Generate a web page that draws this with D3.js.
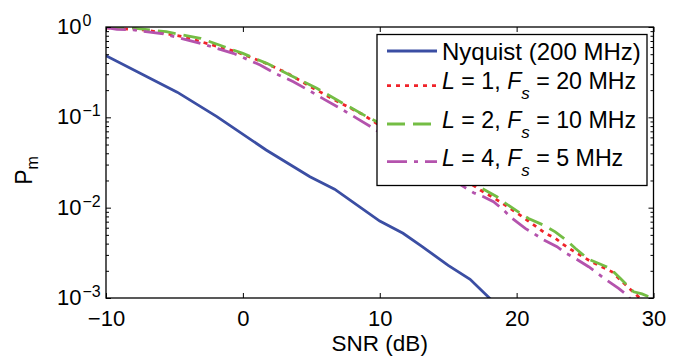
<!DOCTYPE html>
<html>
<head>
<meta charset="utf-8">
<script src="https://cdn.jsdelivr.net/npm/d3@7"></script>
<style>
  body { margin: 0; background: #fff; }
  svg text { font-family: "Liberation Sans", Arial, Helvetica, sans-serif; fill: #000; }
</style>
</head>
<body>
<svg id="canvas" width="683" height="356"></svg>
<script>
// values
let snrNyquist = [-10, -4.8, -1.9, 1.7, 4.9, 6.7, 10, 11.7, 13, 15, 16.6, 18.1]
let pmNyquist = [0.48, 0.19, 0.102, 0.0435, 0.022, 0.016, 0.0071, 0.0052, 0.0038, 0.0023, 0.00161, 0.00097]

let snrL1 = [-10, -7, -4.35, -0.45, 1.62, 3.21, 5.15, 6.62, 8.69, 11, 13, 15, 17.34, 18.8, 19.9, 20.75, 21.48, 22.09, 22.82, 23.43, 24.16, 25.5, 26.97, 27.45, 28.67, 29.04]
let pmL1 = [0.98, 0.92, 0.78, 0.53, 0.40, 0.31, 0.21, 0.158, 0.109, 0.065, 0.042, 0.027, 0.0157, 0.0116, 0.009, 0.0073, 0.0061, 0.0052, 0.0046, 0.0039, 0.0033, 0.0025, 0.00195, 0.00165, 0.00111, 0.00098]

let snrL2 = [-10, -8, -5.6, -3.1, 0, 1.75, 3.57, 5.4, 7.1, 9.06, 9.79, 12, 14, 16, 17.46, 18.56, 19.17, 20.26, 20.87, 21.97, 22.82, 23.68, 24.28, 25.26, 25.87, 26.84, 27.08, 27.57, 28.55, 29.16, 29.9]
let pmL2 = [0.99, 0.97, 0.887, 0.75, 0.51, 0.396, 0.287, 0.21, 0.149, 0.1016, 0.0895, 0.055, 0.0355, 0.0229, 0.0164, 0.0132, 0.0112, 0.0087, 0.0076, 0.0064, 0.0054, 0.0043, 0.00355, 0.00268, 0.00246, 0.00213, 0.00195, 0.00165, 0.00117, 0.00111, 0.001]

let snrL4 = [-10, -9.2, -8, -5.8, -3.1, -0.7, 1.26, 2.35, 3.69, 4.79, 6.01, 7.1, 8.33, 9.42, 11, 13, 15, 16.12, 16.85, 17.58, 18.31, 19.04, 19.66, 20.63, 21.24, 21.97, 22.95, 23.55, 24.28, 25.26, 25.87, 26.48, 27.45, 28.06, 28.3]
let pmL4 = [0.985, 0.94, 0.927, 0.837, 0.66, 0.511, 0.38, 0.307, 0.248, 0.2, 0.156, 0.126, 0.0975, 0.0776, 0.0543, 0.0345, 0.022, 0.0171, 0.01465, 0.0132, 0.01164, 0.00942, 0.00763, 0.0059, 0.0052, 0.00439, 0.0037, 0.00317, 0.00275, 0.00222, 0.0019, 0.00161, 0.00128, 0.00108, 0.00098]

let xTicks = [-10, 0, 10, 20, 30]
let yDecades = [-3, -2, -1, 0]

let seriesList = [
  { x: snrNyquist, y: pmNyquist, color: '#3b4ea3', dash: null, label: [['Nyquist (200 MHz)', 'n']] },
  { x: snrL1, y: pmL1, color: '#f0232a', dash: '4,5', label: [['L', 'i'], [' = 1, ', 'n'], ['F', 'i'], ['s', 's'], [' = 20 MHz', 'n']] },
  { x: snrL2, y: pmL2, color: '#74bd44', dash: '18,8', label: [['L', 'i'], [' = 2, ', 'n'], ['F', 'i'], ['s', 's'], [' = 10 MHz', 'n']] },
  { x: snrL4, y: pmL4, color: '#b453ad', dash: '20,7,4,7', label: [['L', 'i'], [' = 4, ', 'n'], ['F', 'i'], ['s', 's'], [' = 5 MHz', 'n']] }
]

let canvas = d3.select('#canvas')
let plotLeft = 106, plotRight = 653.5, plotTop = 27, plotBottom = 298

let xScale = d3.scaleLinear().domain([-10, 30]).range([plotLeft, plotRight])
let yScale = d3.scaleLog().domain([1e-3, 1]).range([plotBottom, plotTop])

canvas.append('clipPath').attr('id', 'clip')
  .append('rect').attr('x', plotLeft).attr('y', plotTop)
  .attr('width', plotRight - plotLeft).attr('height', plotBottom - plotTop)

// curves
let line = d3.line()
  .x((d) => xScale(d[0]))
  .y((d) => yScale(d[1]))

let plot = canvas.append('g').attr('clip-path', 'url(#clip)')
seriesList.forEach((s) => {
  plot.append('path')
    .datum(s.x.map((v, i) => [v, s.y[i]]))
    .attr('d', line)
    .attr('fill', 'none')
    .attr('stroke', s.color)
    .attr('stroke-width', 2.8)
    .attr('stroke-dasharray', s.dash)
})

// axes, ticks pointing inward on all four sides
let minorVals = []
for (let e = -3; e < 0; e++) {
  for (let m = 2; m <= 9; m++) minorVals.push(m * Math.pow(10, e))
}
let majorVals = yDecades.map((e) => Math.pow(10, e))

let styleAxis = (g) => {
  g.select('.domain').remove()
  g.selectAll('line').attr('stroke', '#000').attr('stroke-width', 1)
}

canvas.append('g').attr('transform', 'translate(0,' + plotBottom + ')')
  .call(d3.axisBottom(xScale).tickValues(xTicks).tickSize(-5).tickPadding(12))
  .call(styleAxis)
  .selectAll('text').attr('font-size', 22).style('font-family', '"Liberation Sans", Arial, sans-serif')

canvas.append('g').attr('transform', 'translate(0,' + plotTop + ')')
  .call(d3.axisTop(xScale).tickValues(xTicks).tickSize(-5).tickFormat(''))
  .call(styleAxis)

canvas.append('g').attr('transform', 'translate(' + plotLeft + ',0)')
  .call(d3.axisLeft(yScale).tickValues(majorVals).tickSize(-5).tickFormat(''))
  .call(styleAxis)
canvas.append('g').attr('transform', 'translate(' + plotLeft + ',0)')
  .call(d3.axisLeft(yScale).tickValues(minorVals).tickSize(-3).tickFormat(''))
  .call(styleAxis)
canvas.append('g').attr('transform', 'translate(' + plotRight + ',0)')
  .call(d3.axisRight(yScale).tickValues(majorVals).tickSize(-5).tickFormat(''))
  .call(styleAxis)
canvas.append('g').attr('transform', 'translate(' + plotRight + ',0)')
  .call(d3.axisRight(yScale).tickValues(minorVals).tickSize(-3).tickFormat(''))
  .call(styleAxis)

// y tick labels 10^e
yDecades.forEach((e) => {
  let yy = yScale(Math.pow(10, e))
  let t = canvas.append('text').attr('x', 57).attr('y', yy + 7).attr('font-size', 22)
  t.append('tspan').text('10')
  t.append('tspan').attr('font-size', 16).attr('dx', 1).attr('dy', -8)
    .text(e < 0 ? '\u2212' + Math.abs(e) : String(e))
})

// frame
canvas.append('rect')
  .attr('x', plotLeft).attr('y', plotTop)
  .attr('width', plotRight - plotLeft).attr('height', plotBottom - plotTop)
  .attr('fill', 'none').attr('stroke', '#000').attr('stroke-width', 1.3)

// axis labels
canvas.append('text')
  .attr('x', (plotLeft + plotRight) / 2).attr('y', 351)
  .attr('text-anchor', 'middle').attr('font-size', 22.5)
  .text('SNR (dB)')

let yl = canvas.append('text')
  .attr('transform', 'translate(32,' + ((plotTop + plotBottom) / 2 + 8) + ') rotate(-90)')
  .attr('text-anchor', 'middle').attr('font-size', 23)
yl.append('tspan').text('P')
yl.append('tspan').attr('font-size', 16).attr('dy', 6).text('m')

// legend
let legend = canvas.append('g')
legend.append('rect')
  .attr('x', 377).attr('y', 34.5).attr('width', 270).attr('height', 151)
  .attr('fill', '#fff').attr('stroke', '#000').attr('stroke-width', 1.3)

let lineYs = [51, 85.7, 124, 161.7]
let textYs = [60, 89, 127.7, 165.7]
seriesList.forEach((s, i) => {
  legend.append('line')
    .attr('x1', 387).attr('x2', 437)
    .attr('y1', lineYs[i]).attr('y2', lineYs[i])
    .attr('stroke', s.color).attr('stroke-width', 2.8)
    .attr('stroke-dasharray', s.dash)
  let t = legend.append('text').attr('x', 442).attr('y', textYs[i])
    .attr('font-size', i === 0 ? 24 : 23.2)
  s.label.forEach((part) => {
    let sp = t.append('tspan').text(part[0]).style('white-space', 'pre')
    if (part[1] === 'i') sp.attr('font-style', 'italic')
    if (part[1] === 's') {
      sp.attr('font-style', 'italic').attr('font-size', 17).attr('dy', 10)
    }
    if (part[1] === 'n' && t.selectAll('tspan').size() > 4) sp.attr('dy', -10)
  })
})
</script>
</body>
</html>
